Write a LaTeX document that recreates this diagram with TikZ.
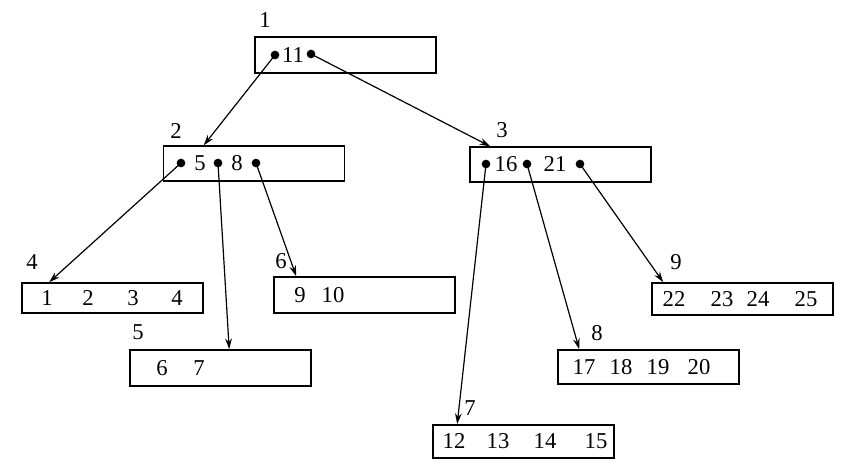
\documentclass[tikz,border=0pt]{standalone}
\usepackage{fontspec}
\setmainfont{Liberation Serif}
\usetikzlibrary{arrows.meta, calc}

\begin{document}
\begin{tikzpicture}[x=0.75pt, y=-0.75pt,
    caixa/.style={draw, line width=1.2pt, minimum width=135.75pt, minimum height=25.5pt, inner sep=0pt},
    chave/.style={font=\fontsize{17}{20}\selectfont, inner sep=0pt},
    rotulo/.style={font=\fontsize{17}{20}\selectfont, inner sep=0pt},
    ponto/.style={circle, fill, inner sep=0pt, minimum size=6.5pt},
    seta/.style={-{Stealth[length=8pt, width=5pt]}, line width=0.9pt}
  ]
    \useasboundingbox (0,0) rectangle (843,465);

    % raiz
    \node[caixa, minimum height=27pt] (b1) at (345.5,55) {};
    \node[rotulo] (r1) at (265,20) {1};
    \node[ponto] (p1a) at (275,55) {};
    \node[chave] (k11) at (293,55) {11};
    \node[ponto] (p1b) at (311,54) {};

    % nivel 2
    \node[caixa, minimum height=26pt] (b2) at (254,163.5) {};
    \node[rotulo] (r2) at (176,131) {2};
    \node[ponto] (p2a) at (181,163) {};
    \node[chave] (k5) at (200,163) {5};
    \node[ponto] (p2b) at (218,163) {};
    \node[chave] (k8) at (237,163) {8};
    \node[ponto] (p2c) at (256,163) {};

    \node[caixa, minimum height=26pt] (b3) at (560.5,164.5) {};
    \node[rotulo] (r3) at (502,130) {3};
    \node[ponto] (p3a) at (486,164) {};
    \node[chave] (k16) at (506,164) {16};
    \node[ponto] (p3b) at (527,164) {};
    \node[chave] (k21) at (555,164) {21};
    \node[ponto] (p3c) at (580,164) {};

    % folhas
    \node[caixa, minimum height=22.5pt] (b4) at (112.5,298) {};
    \node[rotulo] (r4) at (32,262) {4};
    \node[chave] (k1) at (47,298) {1};
    \node[chave] (k2) at (88,298) {2};
    \node[chave] (k3) at (133,298) {3};
    \node[chave] (k4) at (177,298) {4};

    \node[caixa, minimum height=27pt] (b5) at (220.5,368) {};
    \node[rotulo] (r5) at (138,332) {5};
    \node[chave] (k6) at (162,368) {6};
    \node[chave] (k7) at (199,368) {7};

    \node[caixa, minimum height=27pt] (b6) at (364.5,295) {};
    \node[rotulo] (r6) at (281,261) {6};
    \node[chave] (k9) at (300,295) {9};
    \node[chave] (k10) at (333,295) {10};

    \node[caixa, minimum height=25pt] (b7) at (523.5,441.5) {};
    \node[rotulo] (r7) at (470,408) {7};
    \node[chave] (k12) at (454,441) {12};
    \node[chave] (k13) at (498,441) {13};
    \node[chave] (k14) at (545,441) {14};
    \node[chave] (k15) at (596,441) {15};

    \node[caixa, minimum height=25.5pt] (b8) at (648.5,367) {};
    \node[rotulo] (r8) at (597,333) {8};
    \node[chave] (k17) at (584,367) {17};
    \node[chave] (k18) at (621,367) {18};
    \node[chave] (k19) at (658,367) {19};
    \node[chave] (k20) at (699,367) {20};

    \node[caixa, minimum height=24pt] (b9) at (742.5,299) {};
    \node[rotulo] (r9) at (676,262) {9};
    \node[chave] (k22) at (674,299) {22};
    \node[chave] (k23) at (722,299) {23};
    \node[chave] (k24) at (758,299) {24};
    \node[chave] (k25) at (806,299) {25};

    % ponteiros
    \draw[seta] (p1a.center) -- ($(b2.north west)+(41,0)$);
    \draw[seta] (p1b.center) -- ($(b3.north west)+(21,0)$);
    \draw[seta] (p2a.center) -- ($(b4.north west)+(28,0)$);
    \draw[seta] (p2b.center) -- ($(b5.north west)+(100,0)$);
    \draw[seta] (p2c.center) -- ($(b6.north west)+(23,0)$);
    \draw[seta] (p3a.center) -- ($(b7.north west)+(25,0)$);
    \draw[seta] (p3b.center) -- ($(b8.north west)+(22,0)$);
    \draw[seta] (p3c.center) -- ($(b9.north west)+(12,0)$);
\end{tikzpicture}
\end{document}
